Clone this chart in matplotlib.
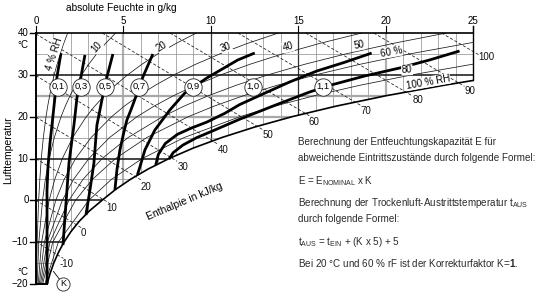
import matplotlib
matplotlib.use('Agg')
import matplotlib.pyplot as plt
from matplotlib.patches import Polygon
import numpy as np

plt.rcParams['font.family'] = ['Liberation Sans', 'DejaVu Sans']
plt.rcParams['mathtext.fontset'] = 'custom'
plt.rcParams['mathtext.rm'] = 'Liberation Sans'
plt.rcParams['mathtext.it'] = 'Liberation Sans:italic'
plt.rcParams['mathtext.bf'] = 'Liberation Sans:bold'

# ---------------- data ----------------
x_ticks = [0, 5, 10, 15, 20, 25]            # absolute humidity g/kg
t_ticks = [40, 30, 20, 10, 0, -10, -20]     # air temperature °C

# saturation curve (100 % RH)
sat_T = [-20, -17.5, -15, -12.5, -10, -7.5, -5, -2.5, 0, 2.5, 5, 7.5, 10, 12.5,
         15, 17.5, 20, 22.5, 25, 27.5, 28.65]
sat_x = [0.635, 0.805, 1.016, 1.278, 1.600, 1.994, 2.475, 3.063, 3.775, 4.521,
         5.397, 6.422, 7.618, 8.999, 10.624, 12.495, 14.657, 17.15, 20.02, 23.33, 25.0]

# relative humidity curves
rh_T = [-20, -10, 0, 5, 10, 15, 20, 22.5, 25, 27.5, 30, 32.5, 35, 37.5, 40]
rh4_x = [0.025, 0.064, 0.150, 0.22, 0.301, 0.42, 0.573, 0.668, 0.78, 0.901, 1.042, 1.201, 1.381, 1.585, 1.814]
rh10_x = [0.063, 0.160, 0.375, 0.535, 0.753, 1.046, 1.435, 1.674, 1.946, 2.257, 2.610, 3.011, 3.465, 3.978, 4.557]
rh20_x = [0.127, 0.319, 0.751, 1.072, 1.509, 2.096, 2.877, 3.356, 3.904, 4.530, 5.242, 6.051, 6.968, 8.007, 9.180]
rh30_x = [0.190, 0.479, 1.128, 1.611, 2.266, 3.150, 4.326, 5.048, 5.874, 6.820, 7.896, 9.121, 10.512, 12.088, 13.873]
rh40_x = [0.254, 0.639, 1.505, 2.148, 3.025, 4.206, 5.781, 6.749, 7.857, 9.126, 10.573, 12.221, 14.095, 16.222, 18.636]
rh50_x = [0.317, 0.798, 1.882, 2.687, 3.786, 5.267, 7.243, 8.459, 9.853, 11.450, 13.273, 15.351, 17.719, 20.411, 23.47]
rh60_T = [-20, -10, 0, 5, 10, 15, 20, 22.5, 25, 27.5, 30, 32.5, 35, 37.75]
rh60_x = [0.381, 0.958, 2.259, 3.227, 4.549, 6.331, 8.712, 10.179, 11.860, 13.790, 15.995, 18.513, 21.38, 25.0]
rh80_T = [-20, -10, 0, 5, 10, 15, 20, 22.5, 25, 27.5, 30, 32.55]
rh80_x = [0.507, 1.278, 3.016, 4.311, 6.080, 8.470, 11.670, 13.646, 15.915, 18.524, 21.51, 25.0]

# enthalpy lines (kJ/kg): start point and point on saturation curve
h_values = [-10, 0, 10, 20, 30, 40, 50, 60, 70, 80, 90, 100]
h_start_x = [0, 0, 0, 0, 0, 0, 3.79, 7.67, 11.55, 15.43, 19.32, 23.2]
h_start_T = [-9.94, 0, 9.94, 19.88, 29.8, 39.76, 40, 40, 40, 40, 40, 40]
h_end_x = [1.22, 2.3, 3.83, 5.68, 7.73, 10.1, 12.65, 15.4, 18.26, 21.15, 24.17, 25.0]
h_end_T = [-13.0, -5.8, 0.25, 5.7, 10.2, 14.2, 17.7, 20.8, 23.47, 25.9, 28.1, 35.6]
h_lab_x = [1.77, 2.69, 4.35, 6.3, 8.4, 10.7, 13.25, 15.9, 18.85, 21.85, 24.85, 25.75]
h_lab_T = [-15.2, -7.8, -1.8, 3.2, 8.0, 12.0, 15.6, 18.7, 21.3, 23.9, 26.1, 34.3]

# correction factor curves K
k_labels = ['0,1', '0,3', '0,5', '0,7', '0,9', '1,0', '1,1']
k_lab_x = [1.26, 2.57, 3.94, 5.89, 8.97, 12.4, 16.4]
k_lab_T = [27.15, 27.15, 27.15, 27.15, 27.15, 27.15, 27.15]
k01_x = [0.635, 0.629, 0.686, 0.80, 0.914, 1.086, 1.20, 1.429]
k01_T = [-20.0, 2.47, 7.97, 13.7, 18.0, 24.7, 29.5, 35.2]
k03_x = [1.543, 1.771, 1.886, 2.057, 2.171, 2.343, 2.571, 2.80]
k03_T = [-10.68, 2.47, 8.92, 14.42, 18.0, 24.46, 29.48, 34.74]
k05_x = [2.857, 3.086, 3.314, 3.429, 3.486, 3.771, 4.057, 4.40]
k05_T = [-3.51, 2.47, 8.92, 15.14, 18.0, 23.98, 29.48, 34.98]
k07_x = [4.514, 4.629, 4.80, 5.029, 5.20, 5.429, 5.60, 6.114, 6.686]
k07_T = [2.47, 7.25, 12.03, 16.33, 19.2, 21.6, 23.5, 29.48, 34.98]
k09_x = [5.80, 5.943, 6.229, 6.80, 7.657, 8.514, 9.771, 11.543, 12.514]
k09_T = [6.06, 7.97, 12.03, 16.81, 21.6, 25.66, 29.24, 33.55, 35.22]
k10_x = [6.85, 7.00, 7.40, 8.10, 8.90, 9.771, 10.80, 11.657, 12.971, 14.514, 16.057, 17.657, 19.2]
k10_T = [8.45, 11.0, 13.6, 15.8, 17.3, 18.7, 20.8, 22.9, 25.4, 28.3, 30.9, 33.0, 35.2]
k11_x = [7.60, 7.85, 8.40, 9.20, 9.943, 11.657, 13.657, 15.657, 16.914, 18.80, 20.80, 22.514, 24.229]
k11_T = [9.8, 11.4, 13.2, 15.0, 16.3, 19.4, 22.7, 25.9, 27.6, 29.72, 31.63, 33.55, 35.7]

text_lines = [
    "Berechnung der Entfeuchtungskapazität E für",
    "abweichende Eintrittszustände durch folgende Formel:",
    "E = E$_{\\rm NOMINAL}$ x K",
    "Berechnung der Trockenluft-Austrittstemperatur t$_{\\rm AUS}$",
    "durch folgende Formel:",
    "t$_{\\rm AUS}$ = t$_{\\rm EIN}$ + (K x 5) + 5",
    "Bei 20 °C und 60 % rF ist der Korrekturfaktor K=$\\mathbf{1}$.",
]
text_y = [142, 158, 181, 203, 219, 242, 263]

# ---------------- figure ----------------
W, H = 540, 293
fig = plt.figure(figsize=(W / 100, H / 100), dpi=100)
L, R, T0, B0 = 36, 473, 33, 284
ax = fig.add_axes([L / W, (H - B0) / H, (R - L) / W, (B0 - T0) / H])
ax.set_xlim(0, 25)
ax.set_ylim(-20, 40)
ax.axis('off')

def fx(px):
    return px / W

def fy(py):
    return 1 - py / H

poly_x = [0, 0, 25, 25] + sat_x[::-1]
poly_T = [-20, 40, 40, sat_T[-1]] + sat_T[::-1]
region = Polygon(np.column_stack([poly_x, poly_T]), closed=True,
                 facecolor='none', edgecolor='none')
ax.add_patch(region)

def clipped(line):
    line.set_clip_path(region)
    return line

# vertical grid
for gx in range(1, 25):
    if gx in (5, 20):
        c, lw = '#b0b0b0', 1.6
    elif gx in (10, 15):
        c, lw = '#303030', 0.9
    else:
        c, lw = '#8c8c8c', 0.5
    clipped(ax.plot([gx, gx], [-20, 40], color=c, lw=lw, zorder=1)[0])

# horizontal grid
for gt in range(-15, 40, 5):
    if gt in (20, 25):
        c, lw = '#a8a8a8', 1.6
    elif gt in (30, 10, 0, -10):
        c, lw = '#111111', 1.1
    else:
        c, lw = '#8c8c8c', 0.5
    clipped(ax.plot([0, 25], [gt, gt], color=c, lw=lw, zorder=1.2)[0])

# RH curves
for xs, ts in [(rh4_x, rh_T), (rh10_x, rh_T), (rh20_x, rh_T), (rh30_x, rh_T),
               (rh40_x, rh_T), (rh50_x, rh_T), (rh60_x, rh60_T), (rh80_x, rh80_T)]:
    clipped(ax.plot(xs, ts, color='#1a1a1a', lw=0.55, zorder=2)[0])

# enthalpy lines (dashed), extended slightly past the saturation curve
for i, h in enumerate(h_values):
    x0, t0, x1, t1 = h_start_x[i], h_start_T[i], h_end_x[i], h_end_T[i]
    p0 = ax.transData.transform((x0, t0))
    p1 = ax.transData.transform((x1, t1))
    d = (p1 - p0) / np.hypot(*(p1 - p0))
    p2 = p1 + d * 7
    x2, t2 = ax.transData.inverted().transform(p2)
    ax.plot([x0, x2], [t0, t2], color='#1a1a1a', lw=0.55, ls=(0, (4, 2.5)),
            zorder=2, clip_on=False)
    ax.text(h_lab_x[i], h_lab_T[i], str(h), fontsize=7, ha='center', va='center',
            color='#111')

# K curves
for xs, ts in [(k01_x, k01_T), (k03_x, k03_T), (k05_x, k05_T), (k07_x, k07_T),
               (k09_x, k09_T), (k10_x, k10_T), (k11_x, k11_T)]:
    ax.plot(xs, ts, color='black', lw=2.0, solid_capstyle='butt',
            solid_joinstyle='round', zorder=4)

for lab, xk, tk in zip(k_labels, k_lab_x, k_lab_T):
    ax.plot([xk], [tk], 'o', ms=12.5, mfc='white', mec='#222', mew=0.6, zorder=5)
    ax.text(xk, tk, lab, fontsize=6.8, ha='center', va='center', zorder=6)

# borders
ax.plot([0, 0], [-20, 40], color='black', lw=1.4, zorder=6, clip_on=False)
ax.plot([0, 25], [40, 40], color='black', lw=1.2, zorder=6, clip_on=False)
ax.plot([25, 25], [sat_T[-1], 41.7], color='black', lw=1.0, zorder=6, clip_on=False)
ax.plot([0, sat_x[0]], [-20, -20], color='black', lw=1.4, zorder=6, clip_on=False)
ax.plot(sat_x, sat_T, color='black', lw=1.2, zorder=6, clip_on=False)

# ticks
for xt in x_ticks:
    ax.plot([xt, xt], [40, 41.7], color='black', lw=0.8, clip_on=False)
    fig.text(fx(L + xt * (R - L) / 25), fy(21), str(xt), fontsize=7, ha='center', va='center')
for tt in t_ticks:
    ax.plot([-0.34, 0], [tt, tt], color='black', lw=1.0, clip_on=False)
    py = T0 + (40 - tt) * (B0 - T0) / 60
    lab = str(tt).replace('-', '\u2212')
    fig.text(fx(28.5), fy(py), lab, fontsize=7, ha='right', va='center')
fig.text(fx(23), fy(45), '°C', fontsize=7, ha='center', va='center')
fig.text(fx(23), fy(272), '°C', fontsize=7, ha='center', va='center')

fig.text(fx(121), fy(8), 'absolute Feuchte in g/kg', fontsize=7.3, ha='center', va='center')
fig.text(fx(8.5), fy(150), 'Lufttemperatur', fontsize=7.5, ha='center', va='center', rotation=90)
fig.text(fx(185), fy(201), 'Enthalpie in kJ/kg', fontsize=7.5, ha='center', va='center',
         rotation=23)

# RH labels
rh_labels = [('4 % RH', 54, 54, 72), ('10', 97, 47, 48), ('20', 162, 47, 32),
             ('30', 226, 47, 20), ('40', 288, 47, 15), ('50', 359, 45, 12),
             ('60 %', 391, 52, 10), ('80', 407, 70, 4), ('100 % RH', 428, 82, 10)]
for lab, px, py, rot in rh_labels:
    fig.text(fx(px), fy(py), lab, fontsize=7, ha='center', va='center', rotation=rot,
             zorder=7, bbox=dict(facecolor='white', edgecolor='none', pad=0.3))

# K marker
ax.plot([1.0, 1.35], [-17.0, -18.9], color='black', lw=0.6, clip_on=False)
ax.plot([1.543], [-20.0], 'o', ms=9.5, mfc='white', mec='#222', mew=0.6, clip_on=False, zorder=6)
ax.text(1.543, -20.0, 'K', fontsize=6.5, ha='center', va='center', zorder=7)

# explanation text
for s, py in zip(text_lines, text_y):
    fig.text(fx(298), fy(py), s, fontsize=7.15, ha='left', va='center', color='#2a2a2a')

fig.savefig('out.png', dpi=100)
